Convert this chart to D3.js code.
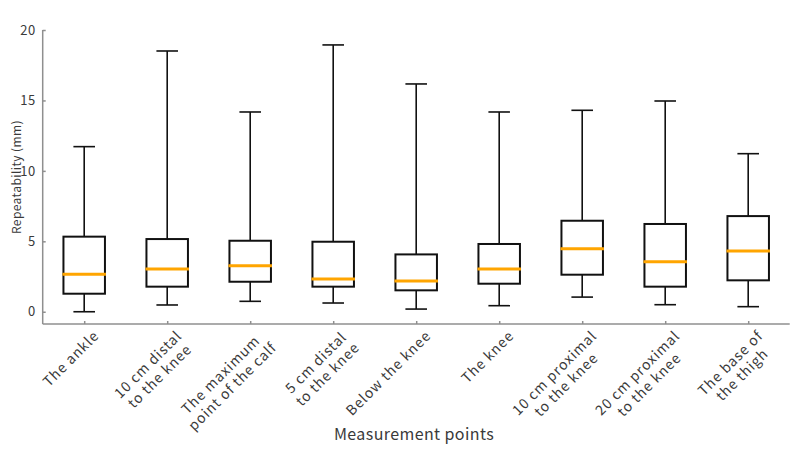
<!DOCTYPE html>
<html>
<head>
<meta charset="utf-8">
<script src="https://cdn.jsdelivr.net/npm/d3@7"></script>
<style>
  body { margin: 0; background: #fff; }
  svg text { font-family: "Noto Sans CJK JP", "Noto Sans", sans-serif; }
</style>
</head>
<body>
<svg id="chart" width="800" height="455"></svg>
<script>
// categories (multi-line tick labels)
const categories = [
  ['The ankle'],
  ['10 cm distal', 'to the knee'],
  ['The maximum', 'point of the calf'],
  ['5 cm distal', 'to the knee'],
  ['Below the knee'],
  ['The knee'],
  ['10 cm proximal', 'to the knee'],
  ['20 cm proximal', 'to the knee'],
  ['The base of', 'the thigh']
]
// box stats
const whiskerLow  = [0.00, 0.48, 0.74, 0.62, 0.19, 0.43, 1.04, 0.50, 0.36]
const q1          = [1.28, 1.78, 2.13, 1.78, 1.52, 1.99, 2.63, 1.78, 2.23]
const median      = [2.66, 3.03, 3.27, 2.32, 2.18, 3.03, 4.47, 3.55, 4.31]
const q3          = [5.33, 5.16, 5.04, 4.97, 4.07, 4.81, 6.46, 6.23, 6.79]
const whiskerHigh = [11.72, 18.51, 14.18, 18.94, 16.17, 14.18, 14.30, 14.96, 11.22]
const yTicks = [0, 5, 10, 15, 20]

const svg = d3.select('#chart')
const plotLeft = 42.7, plotRight = 789.7, plotTop = 30, plotBottom = 324
const axisColor = '#8f8f8f'
const textColor = '#3a3a3a'

const x = d3.scalePoint()
  .domain(d3.range(categories.length))
  .range([plotLeft, plotRight])
  .padding(0.5)
const y = d3.scaleLinear().domain([-0.87, 20]).range([plotBottom, plotTop])
const step = x.step()

// axes
let yAxis = svg.append('g').attr('transform', 'translate(' + plotLeft + ',0)')
  .call(d3.axisLeft(y).tickValues(yTicks).tickSize(-3).tickPadding(7))
yAxis.select('.domain').attr('d', 'M0,' + plotTop + 'V' + plotBottom)
yAxis.selectAll('line, .domain').attr('stroke', axisColor).attr('stroke-width', 1.5)
yAxis.selectAll('text').attr('font-size', 13).attr('fill', textColor)
  .style('letter-spacing', '0.5px')

let xAxis = svg.append('g').attr('transform', 'translate(0,' + plotBottom + ')')
  .call(d3.axisBottom(x).tickSize(-3).tickFormat(''))
xAxis.select('.domain').attr('d', 'M' + plotLeft + ',0H' + plotRight)
xAxis.selectAll('line, .domain').attr('stroke', axisColor).attr('stroke-width', 1.5)

// rotated multi-line tick labels: block right edge at the tick, lines centred
const lh = 16.5
categories.forEach(function(lines, i) {
  let g = svg.append('g')
    .attr('transform', 'translate(' + x(i) + ',' + plotBottom + ') rotate(-45)')
  let t = g.append('text').attr('font-size', 14).attr('fill', textColor)
    .attr('text-anchor', 'middle').style('letter-spacing', '0.9px')
  let spans = lines.map(function(s, k) {
    return t.append('tspan').attr('y', 20 + k * lh).text(s)
  })
  let w = d3.max(spans, function(s) { return s.node().getComputedTextLength() })
  let cx = 2 - w / 2
  spans.forEach(function(s) { s.attr('x', cx) })
})

// boxes
const bw = step * 0.5, cw = step * 0.26
const boxes = svg.append('g')
d3.range(categories.length).forEach(function(i) {
  let cxp = x(i)
  let g = boxes.append('g')
  g.append('line')
    .attr('x1', cxp).attr('x2', cxp)
    .attr('y1', y(q3[i])).attr('y2', y(whiskerHigh[i]))
    .attr('stroke', '#111').attr('stroke-width', 1.6)
  g.append('line')
    .attr('x1', cxp).attr('x2', cxp)
    .attr('y1', y(q1[i])).attr('y2', y(whiskerLow[i]))
    .attr('stroke', '#111').attr('stroke-width', 1.6)
  g.append('line')
    .attr('x1', cxp - cw / 2).attr('x2', cxp + cw / 2)
    .attr('y1', y(whiskerHigh[i])).attr('y2', y(whiskerHigh[i]))
    .attr('stroke', '#111').attr('stroke-width', 1.6)
  g.append('line')
    .attr('x1', cxp - cw / 2).attr('x2', cxp + cw / 2)
    .attr('y1', y(whiskerLow[i])).attr('y2', y(whiskerLow[i]))
    .attr('stroke', '#111').attr('stroke-width', 1.6)
  g.append('rect')
    .attr('x', cxp - bw / 2).attr('width', bw)
    .attr('y', y(q3[i])).attr('height', y(q1[i]) - y(q3[i]))
    .attr('fill', 'none').attr('stroke', '#111').attr('stroke-width', 2)
  g.append('line')
    .attr('x1', cxp - bw / 2 - 1).attr('x2', cxp + bw / 2 + 1)
    .attr('y1', y(median[i])).attr('y2', y(median[i]))
    .attr('stroke', '#ffa500').attr('stroke-width', 3)
})

// axis titles
svg.append('text')
  .attr('x', 414).attr('y', 440)
  .attr('text-anchor', 'middle').attr('font-size', 16).attr('fill', textColor)
  .style('letter-spacing', '0.4px')
  .text('Measurement points')
svg.append('text')
  .attr('transform', 'translate(21,177) rotate(-90)')
  .attr('text-anchor', 'middle').attr('font-size', 12).attr('fill', textColor)
  .style('letter-spacing', '0.4px')
  .text('Repeatability (mm)')
</script>
</body>
</html>
